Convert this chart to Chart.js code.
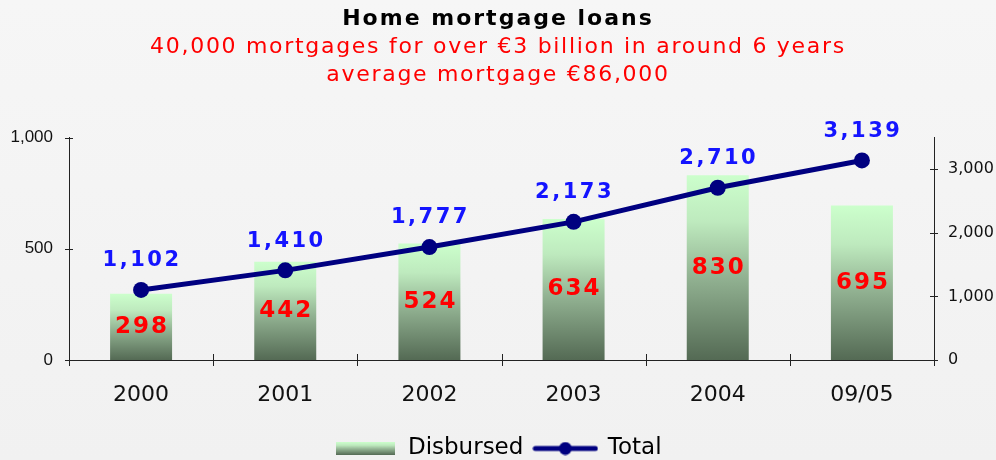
<!DOCTYPE html>
<html>
<head>
<meta charset="utf-8">
<script src="https://cdn.jsdelivr.net/npm/chart.js@4/dist/chart.umd.min.js"></script>
<style>
    html, body { margin: 0; padding: 0; }
    body { background: linear-gradient(#f6f6f6, #f1f1f1); }
    #wrap { width: 996px; height: 460px; position: relative; }
</style>
</head>
<body>
<div id="wrap"><canvas id="chart"></canvas></div>
<script>
const labels = ['2000', '2001', '2002', '2003', '2004', '09/05'];
const disbursed = [298, 442, 524, 634, 830, 695];
const total = [1102, 1410, 1777, 2173, 2710, 3139];
const leftTicks = [0, 500, 1000];
const rightTicks = [0, 1000, 2000, 3000];

const fmt = (v) => v.toLocaleString('en-US');

function barGradient(ctx, top, bottom) {
    const g = ctx.createLinearGradient(0, top, 0, bottom);
    g.addColorStop(0, 'rgb(204,255,204)');
    g.addColorStop(0.25, 'rgb(190,234,190)');
    g.addColorStop(0.55, 'rgb(146,178,146)');
    g.addColorStop(1, 'rgb(84,106,84)');
    return g;
}

// little pictures for the legend
function barSwatch() {
    const c = document.createElement('canvas');
    c.width = 59; c.height = 13;
    const ctx = c.getContext('2d');
    ctx.fillStyle = barGradient(ctx, 0, 13);
    ctx.fillRect(0, 0, 59, 13);
    return c;
}
function lineSwatch() {
    const c = document.createElement('canvas');
    c.width = 66; c.height = 14;
    const ctx = c.getContext('2d');
    ctx.strokeStyle = '#000080';
    ctx.lineWidth = 5;
    ctx.lineCap = 'round';
    ctx.beginPath(); ctx.moveTo(3, 7); ctx.lineTo(63, 7); ctx.stroke();
    ctx.fillStyle = '#000080';
    ctx.beginPath(); ctx.arc(33, 7, 6.5, 0, Math.PI * 2); ctx.fill();
    return c;
}

// title boxes get wider letter spacing, like the original
const titleSpacing = {
    id: 'titleSpacing',
    afterLayout(chart) {
        chart.boxes.forEach((box) => {
            const sp = box.options && box.options.text && box.options.letterSpacing;
            if (!sp || box._spaced) return;
            const draw = box.draw.bind(box);
            box.draw = function (area) {
                const ctx = chart.ctx;
                ctx.save();
                ctx.letterSpacing = sp + 'px';
                draw(area);
                ctx.restore();
            };
            box._spaced = true;
        });
    }
};

// tick marks crossing the axis lines
const crossTicks = {
    id: 'crossTicks',
    afterDraw(chart) {
        const ctx = chart.ctx;
        const {x, y, y1} = chart.scales;
        ctx.save();
        ctx.strokeStyle = '#222';
        ctx.lineWidth = 1;
        ctx.beginPath();
        for (let i = 0; i <= labels.length; i++) {
            const px = Math.round(x.getPixelForValue(i - 0.5)) + 0.5;
            ctx.moveTo(px, y.bottom - 6);
            ctx.lineTo(px, y.bottom + 6);
        }
        y.ticks.forEach((t) => {
            const py = Math.round(y.getPixelForValue(t.value)) + 0.5;
            ctx.moveTo(y.right - 4, py);
            ctx.lineTo(y.right + 4, py);
        });
        y1.ticks.forEach((t) => {
            const py = Math.round(y1.getPixelForValue(t.value)) + 0.5;
            ctx.moveTo(y1.left - 4, py);
            ctx.lineTo(y1.left + 4, py);
        });
        ctx.stroke();
        ctx.restore();
    }
};

// value labels
const valueLabels = {
    id: 'valueLabels',
    afterDatasetsDraw(chart) {
        const ctx = chart.ctx;
        ctx.save();
        ctx.textAlign = 'center';
        ctx.textBaseline = 'middle';

        ctx.font = 'bold 23px "DejaVu Sans"';
        ctx.letterSpacing = '2px';
        ctx.fillStyle = '#ff0000';
        chart.getDatasetMeta(0).data.forEach((bar, i) => {
            ctx.fillText(fmt(disbursed[i]), bar.x + 1, (bar.y + bar.base) / 2);
        });

        ctx.font = 'bold 21px "DejaVu Sans"';
        ctx.letterSpacing = '2.5px';
        ctx.fillStyle = '#1414ff';
        chart.getDatasetMeta(1).data.forEach((pt, i) => {
            ctx.fillText(fmt(total[i]), pt.x + 1, pt.y - 29);
        });
        ctx.restore();
    }
};

const data = {
    labels: labels,
    datasets: [{
        type: 'bar',
        label: 'Disbursed',
        data: disbursed,
        yAxisID: 'y',
        order: 1,
        backgroundColor: (c) => {
            const s = c.chart.scales.y;
            if (!s || c.raw === undefined) return 'rgb(204,255,204)';
            return barGradient(c.chart.ctx, s.getPixelForValue(c.raw), s.getPixelForValue(0));
        },
        barPercentage: 0.43,
        categoryPercentage: 1,
    }, {
        type: 'line',
        label: 'Total',
        data: total,
        yAxisID: 'y1',
        order: 0,
        borderColor: '#000080',
        backgroundColor: '#000080',
        borderWidth: 5,
        pointRadius: 8,
        pointBackgroundColor: '#000080',
        pointBorderWidth: 0,
        tension: 0,
    }]
};

const config = {
    type: 'bar',
    data,
    options: {
        responsive: true,
        maintainAspectRatio: false,
        animation: false,
        layout: {
            padding: { top: 0, left: 0, right: 0, bottom: -10 }
        },
        plugins: {
            tooltip: false,
            title: {
                display: true,
                text: 'Home mortgage loans',
                color: '#000',
                font: { family: '"DejaVu Sans"', size: 22, weight: 'bold', lineHeight: 1.1 },
                letterSpacing: 2,
                padding: { top: 7, bottom: 0 }
            },
            subtitle: {
                display: true,
                text: ['40,000 mortgages for over €3 billion in around 6 years', 'average mortgage €86,000'],
                color: '#ff0000',
                font: { family: '"DejaVu Sans"', size: 22, lineHeight: 1.28 },
                letterSpacing: 1.7,
                padding: { top: 2, bottom: 48 }
            },
            legend: {
                position: 'bottom',
                labels: {
                    color: '#111',
                    font: { family: '"DejaVu Sans"', size: 23 },
                    usePointStyle: true,
                    pointStyleWidth: 62,
                    padding: 11,
                    generateLabels: () => [
                        { text: 'Disbursed', pointStyle: barSwatch(), datasetIndex: 0, lineWidth: 0 },
                        { text: 'Total', pointStyle: lineSwatch(), datasetIndex: 1, lineWidth: 0 }
                    ]
                }
            }
        },
        scales: {
            x: {
                offset: true,
                grid: { display: false },
                border: { display: true, color: '#222', width: 1 },
                ticks: {
                    color: '#111',
                    font: { family: '"DejaVu Sans"', size: 22 },
                    padding: 14,
                    maxRotation: 0
                },
                afterFit: (s) => { s.height = 66; }
            },
            y: {
                position: 'left',
                min: 0,
                max: 1000,
                grid: { display: false },
                border: { display: true, color: '#222', width: 1 },
                ticks: {
                    color: '#111',
                    font: { family: '"Liberation Sans"', size: 17 },
                    padding: 8,
                    callback: (v) => fmt(v)
                },
                afterBuildTicks: (s) => { s.ticks = leftTicks.map((v) => ({ value: v })); },
                afterFit: (s) => { s.width = 69; }
            },
            y1: {
                position: 'right',
                min: 0,
                max: 3500,
                grid: { display: false },
                border: { display: true, color: '#222', width: 1 },
                ticks: {
                    color: '#111',
                    font: { family: '"DejaVu Sans"', size: 16 },
                    padding: 6,
                    callback: (v) => fmt(v)
                },
                afterBuildTicks: (s) => { s.ticks = rightTicks.map((v) => ({ value: v })); },
                afterFit: (s) => { s.width = 62; }
            }
        }
    },
    plugins: [titleSpacing, crossTicks, valueLabels]
};

var myChart = new Chart(
    document.getElementById('chart'),
    config
);
</script>
</body>
</html>
